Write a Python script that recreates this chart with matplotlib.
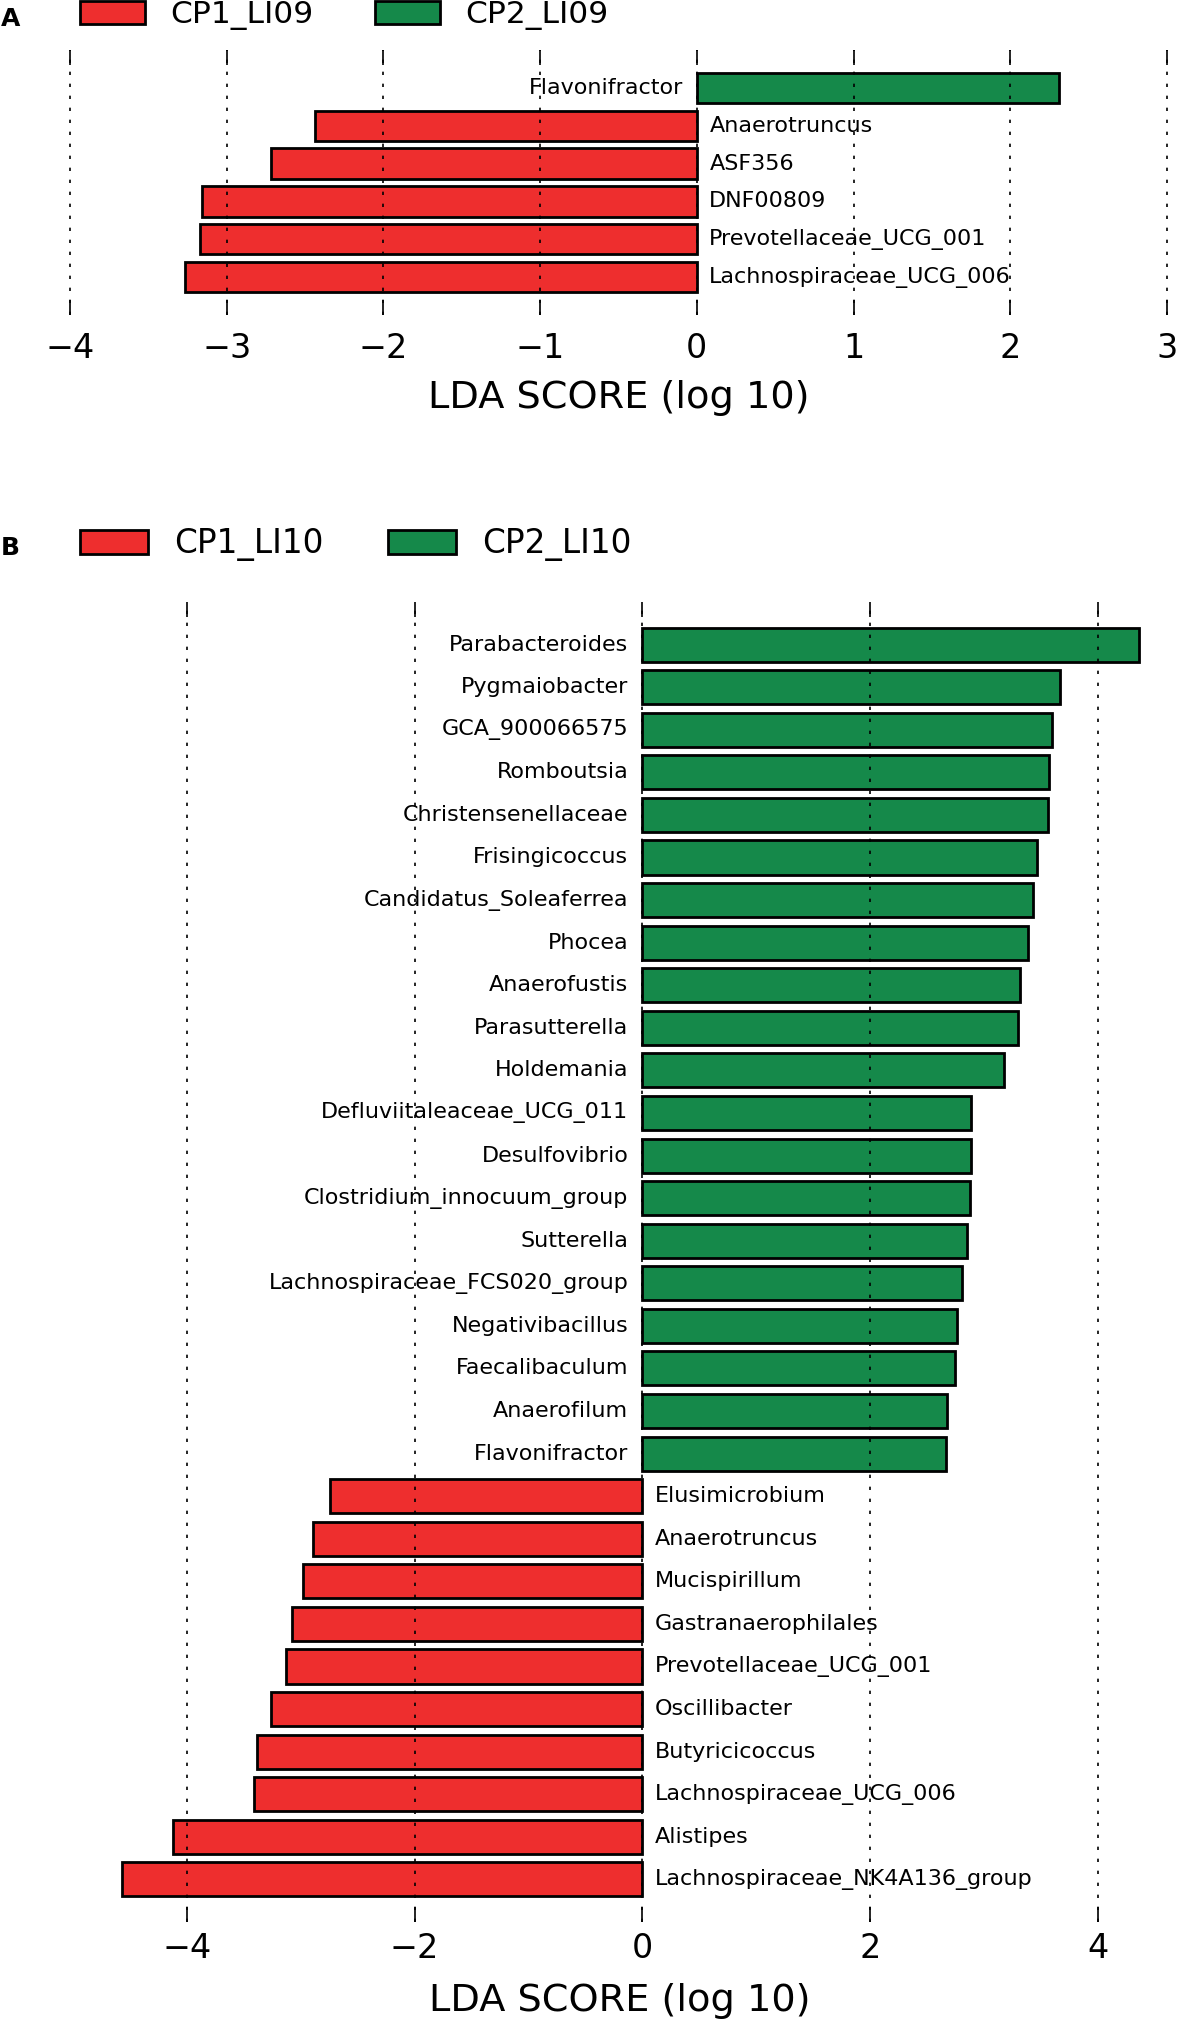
import matplotlib
matplotlib.use("Agg")
import matplotlib.pyplot as plt
from matplotlib.patches import Patch

# panel A data (top to bottom)
a_taxa = ["Flavonifractor", "Anaerotruncus", "ASF356", "DNF00809",
          "Prevotellaceae_UCG_001", "Lachnospiraceae_UCG_006"]
a_scores = [2.31, -2.44, -2.72, -3.16, -3.17, -3.27]
a_classes = ["CP1_LI09", "CP2_LI09"]

# panel B data (top to bottom)
b_taxa = ["Parabacteroides", "Pygmaiobacter", "GCA_900066575", "Romboutsia",
          "Christensenellaceae", "Frisingicoccus", "Candidatus_Soleaferrea",
          "Phocea", "Anaerofustis", "Parasutterella", "Holdemania",
          "Defluviitaleaceae_UCG_011", "Desulfovibrio",
          "Clostridium_innocuum_group", "Sutterella",
          "Lachnospiraceae_FCS020_group", "Negativibacillus", "Faecalibaculum",
          "Anaerofilum", "Flavonifractor", "Elusimicrobium", "Anaerotruncus",
          "Mucispirillum", "Gastranaerophilales", "Prevotellaceae_UCG_001",
          "Oscillibacter", "Butyricicoccus", "Lachnospiraceae_UCG_006",
          "Alistipes", "Lachnospiraceae_NK4A136_group"]
b_scores = [4.36, 3.67, 3.60, 3.57, 3.56, 3.47, 3.43, 3.39, 3.32, 3.30, 3.18,
            2.89, 2.89, 2.88, 2.85, 2.81, 2.76, 2.75, 2.68, 2.67,
            -2.74, -2.89, -2.98, -3.08, -3.13, -3.26, -3.38, -3.41, -4.12, -4.57]
b_classes = ["CP1_LI10", "CP2_LI10"]

RED = "#EE2E2E"
GREEN = "#15894A"

W, H = 1178, 2028
fig = plt.figure(figsize=(W / 100, H / 100), dpi=100)


def lda_panel(ax, taxa, scores, xlim, ticks, tickpad, labelpad):
    n = len(taxa)
    pos = list(range(n))
    colors = [GREEN if s > 0 else RED for s in scores]
    ax.barh(pos, scores, height=0.8, color=colors, edgecolor="black",
            linewidth=2, zorder=2)
    for y, name, s in zip(pos, taxa, scores):
        if s > 0:
            ax.annotate(name, (0, y), xytext=(-10, 0), textcoords="offset points",
                        ha="right", va="center", fontsize=16)
        else:
            ax.annotate(name, (0, y), xytext=(9, 0), textcoords="offset points",
                        ha="left", va="center", fontsize=16)
    ax.set_ylim(n, -1)
    ax.set_xlim(*xlim)
    ax.set_xticks(ticks)
    ax.set_yticks([])
    for sp in ax.spines.values():
        sp.set_visible(False)
    ax.tick_params(axis="x", direction="in", top=True, bottom=True,
                   length=11, width=1.2, labelsize=24, pad=tickpad)
    ax.grid(axis="x", linestyle=(0, (2, 5.2)), color="black", linewidth=1.2,
            zorder=3)
    ax.set_axisbelow(False)
    ax.set_xlabel("LDA SCORE (log 10)", fontsize=27.5, labelpad=labelpad)


def px_axes(left, top, right, bottom):
    return fig.add_axes([left / W, 1 - bottom / H, (right - left) / W, (bottom - top) / H])


axA = px_axes(67, 50, 1170, 315)
lda_panel(axA, a_taxa, a_scores, (-4.02, 3.02), range(-4, 4), 12, 11)

axB = px_axes(73, 602, 1166, 1922)
lda_panel(axB, b_taxa, b_scores, (-5, 4.6), range(-4, 5, 2), 7, 13)


def legend(classes, y, fs):
    handles = [Patch(facecolor=RED, edgecolor="black", linewidth=2),
               Patch(facecolor=GREEN, edgecolor="black", linewidth=2)]
    fig.legend(handles, classes, loc="center left",
               bbox_to_anchor=(80 / W, 1 - y / H), ncol=2, frameon=False,
               fontsize=fs, handlelength=2.08, handleheight=0.75,
               handletextpad=0.8, columnspacing=1.97, borderpad=0,
               borderaxespad=0)


legend(a_classes, 15, 22.5)
legend(b_classes, 544, 23.5)

fig.text(1 / W, 1 - 19 / H, "A", fontsize=18, fontweight="bold", va="center")
fig.text(1 / W, 1 - 548 / H, "B", fontsize=18, fontweight="bold", va="center")

fig.savefig("out.png", dpi=100)
